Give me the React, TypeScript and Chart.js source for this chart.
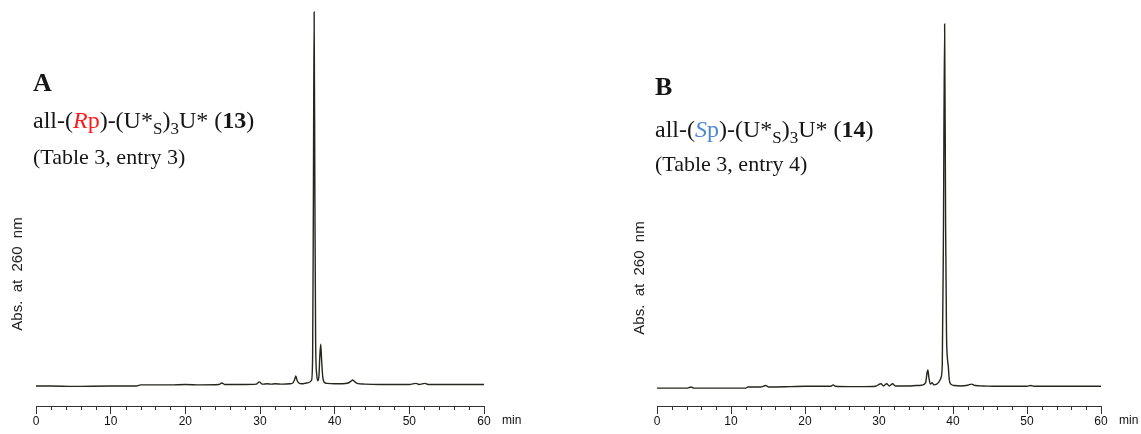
import { useEffect, useRef } from "react";
import { Chart, registerables } from "chart.js";

Chart.register(...registerables);

// Retention time axis (min) and labelled ticks
const xTickLabels = [0, 10, 20, 30, 40, 50, 60];

// Chromatogram A: all-(Rp)-(U*s)3U* (13)
const timeA = [
  0, 2, 5, 10, 13.5, 14, 16, 18, 20, 22, 24.5, 24.9, 25.3, 26, 28, 29.5, 29.9, 30.3, 31, 31.5,
  32, 33, 34, 34.4, 34.65, 34.8, 34.95, 35.2, 35.6, 36, 36.5, 36.9, 37.05, 37.15, 37.25, 37.35,
  37.45, 37.6, 37.75, 37.9, 38.0, 38.13, 38.25, 38.4, 38.6, 39, 40, 41, 41.8, 42.2, 42.4, 42.6,
  43, 44, 46, 48, 50, 50.9, 51.3, 52.1, 52.5, 55, 58, 60,
];
const absA = [
  0, 0, -1, 0, 0, 3, 3, 3, 4, 3, 4, 8, 4, 4, 4, 5, 11, 5, 6, 5,
  6, 5, 6, 8, 18, 27, 16, 8, 6, 7, 9, 15, 80, 500, 1000, 520,
  120, 30, 14, 28, 75, 112, 70, 25, 10, 7, 6, 6, 8, 13, 16, 13,
  7, 5, 4, 4, 4, 7, 4, 7, 4, 4, 4, 4,
];

// Chromatogram B: all-(Sp)-(U*s)3U* (14)
const timeB = [
  0, 4, 4.6, 5, 8, 12, 12.3, 14, 14.7, 15.1, 18, 20, 22, 23.5, 23.8, 24.1, 26, 28, 29.5, 30.27,
  30.6, 31.04, 31.4, 31.85, 32.2, 33, 34, 35, 35.8, 36.3, 36.5, 36.6, 36.75, 36.95, 37.2, 37.4,
  37.8, 38.1, 38.35, 38.55, 38.7, 38.87, 39.0, 39.12, 39.25, 39.35, 39.5, 39.7, 40.2, 41, 42,
  42.5, 43, 44, 46, 50, 50.5, 50.9, 55, 58, 60,
];
const absB = [
  -3, -3, 0, -3, -3, -3, 0, 0, 4, 0, 1, 2, 2, 2, 6, 2, 1, 1, 2, 9,
  3, 9, 3, 9, 3, 3, 3, 4, 5, 12, 40, 47, 25, 8, 12, 6,
  8, 14, 24, 60, 400, 1000, 450, 150, 78, 60, 20, 8, 4, 3, 5,
  8, 4, 3, 2, 2, 4, 2, 2, 2, 2,
];

const SERIF = '"Liberation Serif", "Times New Roman", serif';
const SANS = '"Liberation Sans", Arial, sans-serif';
const INK = "#161616";

type Seg = { t: string; font: string; color?: string; dy?: number };

type Panel = {
  letter: string;
  compound: Seg[];
  entry: string;
  textX: number;
  letterY: number;
  compoundY: number;
  entryY: number;
  yLabelX: number;
  yLabelY: number;
  padLeft: number;
  padRight: number;
};

const mainFont = `24px ${SERIF}`;
const subFont = `17px ${SERIF}`;

function compoundSegs(config: string, color: string, number: string): Seg[] {
  return [
    { t: "all-(", font: mainFont },
    { t: config, font: `italic 24px ${SERIF}`, color },
    { t: "p", font: mainFont, color },
    { t: ")-(U*", font: mainFont },
    { t: "S", font: subFont, dy: 6 },
    { t: ")", font: mainFont },
    { t: "3", font: subFont, dy: 6 },
    { t: "U* (", font: mainFont },
    { t: number, font: `bold 24px ${SERIF}` },
    { t: ")", font: mainFont },
  ];
}

const panelA: Panel = {
  letter: "A",
  compound: compoundSegs("R", "#ff1a1a", "13"),
  entry: "(Table 3, entry 3)",
  textX: 33,
  letterY: 91,
  compoundY: 128,
  entryY: 164,
  yLabelX: 18,
  yLabelY: 274,
  padLeft: 36,
  padRight: 86,
};

const panelB: Panel = {
  letter: "B",
  compound: compoundSegs("S", "#4b87d6", "14"),
  entry: "(Table 3, entry 4)",
  textX: 84,
  letterY: 95,
  compoundY: 137,
  entryY: 171,
  yLabelX: 69,
  yLabelY: 278,
  padLeft: 86,
  padRight: 40,
};

function drawRich(ctx: CanvasRenderingContext2D, x: number, y: number, segs: Seg[]) {
  let cx = x;
  for (const s of segs) {
    ctx.font = s.font;
    ctx.fillStyle = s.color || INK;
    ctx.fillText(s.t, cx, y + (s.dy || 0));
    cx += ctx.measureText(s.t).width;
  }
}

function panelPlugin(p: Panel) {
  return {
    id: "panelText" + p.letter,
    afterDraw(chart: any) {
      const ctx: CanvasRenderingContext2D = chart.ctx;
      const xs = chart.scales.x;
      const area = chart.chartArea;
      ctx.save();
      // minor ticks every 2 min
      ctx.strokeStyle = "#333";
      ctx.lineWidth = 1;
      for (const tk of xs.ticks) {
        if (xTickLabels.includes(tk.value)) continue;
        const px = Math.round(xs.getPixelForValue(tk.value)) + 0.5;
        ctx.beginPath();
        ctx.moveTo(px, area.bottom);
        ctx.lineTo(px, area.bottom + 4);
        ctx.stroke();
      }
      // unit label
      ctx.font = `12px ${SANS}`;
      ctx.fillStyle = "#111";
      ctx.textAlign = "left";
      ctx.textBaseline = "middle";
      ctx.fillText("min", area.right + 18, 421);
      // y axis title
      ctx.save();
      ctx.translate(p.yLabelX, p.yLabelY);
      ctx.rotate(-Math.PI / 2);
      ctx.textAlign = "center";
      ctx.textBaseline = "middle";
      ctx.font = `15px ${SANS}`;
      ctx.fillStyle = "#222";
      ctx.fillText("Abs.  at  260  nm", 0, 0);
      ctx.restore();
      // panel heading
      ctx.textAlign = "left";
      ctx.textBaseline = "alphabetic";
      ctx.font = `bold 26px ${SERIF}`;
      ctx.fillStyle = INK;
      ctx.fillText(p.letter, p.textX, p.letterY);
      drawRich(ctx, p.textX, p.compoundY, p.compound);
      ctx.font = `22px ${SERIF}`;
      ctx.fillStyle = INK;
      ctx.fillText(p.entry, p.textX, p.entryY);
      ctx.restore();
    },
  };
}

function buildChart(
  canvas: HTMLCanvasElement,
  times: number[],
  values: number[],
  yMin: number,
  yMax: number,
  p: Panel
) {
  const points = times.map((t, i) => ({ x: t, y: values[i] }));
  return new Chart(canvas, {
    type: "line",
    data: {
      datasets: [
        {
          data: points,
          borderColor: "#26261f",
          borderWidth: 1.4,
          pointRadius: 0,
          cubicInterpolationMode: "monotone",
          fill: false,
        },
      ],
    },
    options: {
      animation: false,
      responsive: false,
      layout: { padding: { left: p.padLeft, right: p.padRight, top: 10, bottom: 0 } },
      plugins: { legend: { display: false }, tooltip: { enabled: false } },
      scales: {
        x: {
          type: "linear",
          min: 0,
          max: 60,
          afterFit: (s: any) => {
            s.height = 28;
          },
          border: { display: true, color: "#333", width: 1 },
          grid: {
            display: true,
            drawOnChartArea: false,
            drawTicks: true,
            tickLength: 8,
            color: (c: any) =>
              c.tick && xTickLabels.includes(c.tick.value) ? "#333" : "rgba(0,0,0,0)",
          },
          ticks: {
            stepSize: 2,
            autoSkip: false,
            maxRotation: 0,
            padding: 0,
            color: "#111",
            font: { family: SANS, size: 12 },
            callback: (v: any) => (xTickLabels.includes(Number(v)) ? String(v) : ""),
          },
        },
        y: { display: false, min: yMin, max: yMax },
      },
    } as any,
    plugins: [panelPlugin(p)],
  });
}

export default function App() {
  const refA = useRef<HTMLCanvasElement>(null);
  const refB = useRef<HTMLCanvasElement>(null);

  useEffect(() => {
    const a = buildChart(refA.current!, timeA, absA, -53.5, 1005.3, panelA);
    const b = buildChart(refB.current!, timeB, absB, -52.3, 1038.6, panelB);
    return () => {
      a.destroy();
      b.destroy();
    };
  }, []);

  return (
    <div
      style={{
        position: "fixed",
        left: 0,
        top: 0,
        width: 1141,
        height: 434,
        background: "#fff",
      }}
    >
      <canvas
        ref={refA}
        width={570}
        height={434}
        style={{ position: "absolute", left: 0, top: 0, width: 570, height: 434 }}
      />
      <canvas
        ref={refB}
        width={570}
        height={434}
        style={{ position: "absolute", left: 571, top: 0, width: 570, height: 434 }}
      />
    </div>
  );
}
